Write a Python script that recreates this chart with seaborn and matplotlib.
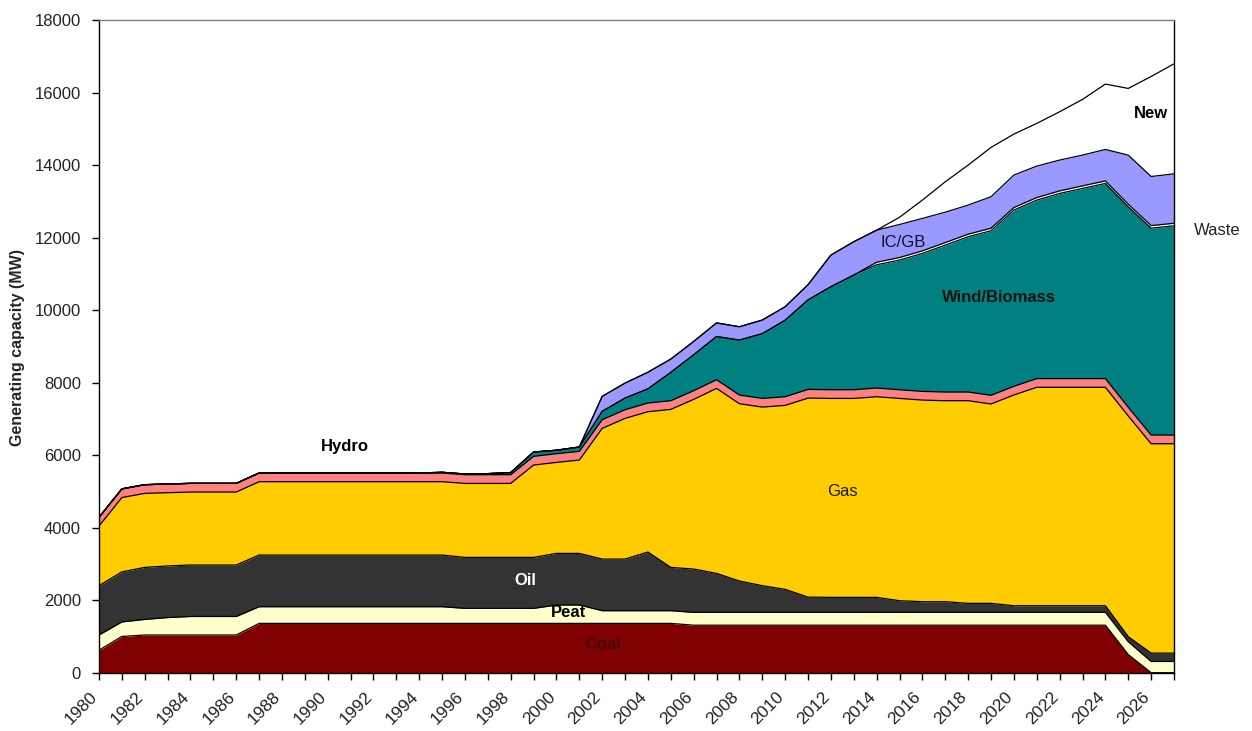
import numpy as np
import pandas as pd
import matplotlib
matplotlib.use("Agg")
import matplotlib.pyplot as plt
import matplotlib.transforms as mtransforms
import seaborn as sns

# ---------------- data (MW), 1980 .. 2027 ----------------
years = list(range(1980, 2028))

coal = [620, 1000] + [1040] * 5 + [1360] * 19 + [1310] * 19 + [500, 0, 0]
peat = [420, 400, 430, 480] + [510] * 3 + [460] * 9 + [414] * 4 + [506] * 2 \
       + [350] * 4 + [354] * 19 + [355] + [310] * 2
oil = [1360, 1380, 1434, 1424] + [1420] * 3 + [1424] * 9 + [1406] * 4 + [1424] * 2 \
      + [1424] * 2 + [1617, 1194, 1194, 1075, 864, 736, 634, 420] + [413] * 3 \
      + [321] + [294] * 2 + [248] * 2 + [183] * 5 + [138] + [230] * 2
gas = [1644, 2050, 2041, 2020] + [2012] * 3 + [2023] * 9 + [2040] * 3 \
      + [2546, 2510, 2574, 3603, 3879, 3870, 4357, 4679, 5101, 4889, 4925, 5073,
         5489, 5487, 5487, 5533, 5579, 5560, 5542, 5589, 5498, 5812, 6024, 6024,
         6024, 6024, 6087, 5774, 5774]
hydro = [240] * 48
wind = [0] * 15 + [20, 20, 30, 60, 120, 95, 120, 230, 320, 390, 780, 990, 1190,
                   1516, 1785, 2109, 2467, 2841, 3162, 3400, 3576, 3805, 4053,
                   4282, 4538, 4859, 4923, 5107, 5245, 5382, 5530, 5706, 5770]
waste = [0] * 34 + [70] * 14
icgb = [0] * 22 + [414, 414, 460, 368, 368, 376, 368, 375, 373, 420, 872, 919,
                   885, 910, 895, 837, 803, 868, 895, 867, 849, 848, 867, 1354,
                   1354, 1364]
new = [0] * 35 + [200, 506, 839, 1103, 1360, 1131, 1177, 1333, 1536, 1803,
                  1839, 2758, 3033]

series_names = ["Coal", "Peat", "Oil", "Gas", "Hydro", "Wind/Biomass", "Waste",
                "IC/GB", "New"]
series_values = [coal, peat, oil, gas, hydro, wind, waste, icgb, new]
series_colors = ["#800000", "#FFFFCC", "#333333", "#FFCC00", "#FF8080",
                 "#008080", "#FFFFFF", "#9999FF", "#FFFFFF"]

# ---------------- figure ----------------
sns.set_theme(style="white")
plt.rcParams["font.family"] = ["Liberation Sans", "DejaVu Sans"]

W, H = 1252, 731
fig = plt.figure(figsize=(W / 100, H / 100), dpi=100)
x0, x1, ytop, ybot = 99, 1174, 20, 672.7
ax = fig.add_axes([x0 / W, 1 - ybot / H, (x1 - x0) / W, (ybot - ytop) / H])

ax.stackplot(years, *series_values, colors=series_colors, linewidth=0)

# boundary lines of the stacked areas
cum = np.cumsum(np.array(series_values, dtype=float), axis=0)
rows = []
for name, top in zip(series_names, cum):
    for yr_, v in zip(years, top):
        rows.append({"series": name, "year": yr_, "top": v})
df_lines = pd.DataFrame(rows)
sns.lineplot(data=df_lines, x="year", y="top", units="series", estimator=None,
             color="black", linewidth=0.9, ax=ax, legend=False)

ax.set_xlim(1980, 2027)
ax.set_ylim(0, 18000)
ax.set_xlabel("")
ax.set_ylabel("")

# ticks
ax.tick_params(axis="both", direction="out", length=5, width=1, color="black",
               bottom=True, left=True)
ax.tick_params(axis="y", pad=8)
ax.tick_params(axis="x", pad=2)
ax.set_xticks(years)
ax.set_xticklabels([str(y) if (y - 1980) % 2 == 0 else "" for y in years],
                   rotation=45, ha="right", rotation_mode="anchor", fontsize=12.5,
                   color="#222222")
yt = list(range(0, 18001, 2000))
ax.set_yticks(yt)
ax.set_yticklabels([str(v) for v in yt], fontsize=12, color="#222222")
offset = mtransforms.ScaledTranslation(-9 / 100, -7 / 100, fig.dpi_scale_trans)
for lbl in ax.get_xticklabels():
    lbl.set_transform(lbl.get_transform() + offset)

for side in ["left", "bottom", "right"]:
    ax.spines[side].set_color("black")
    ax.spines[side].set_linewidth(1)
ax.spines["top"].set_color("#808080")
ax.spines["top"].set_linewidth(1)
ax.grid(False)

fig.text(18 / W, 1 - 347 / H, "Generating capacity (MW)", rotation=90,
         ha="center", va="center", fontsize=11.5, fontweight="bold")

# in-chart labels
def yr(px):
    return 1980 + (px - 99) / 22.87

def mw(py):
    return (672.7 - py) / 0.03626

ax.text(yr(345), mw(447), "Hydro", ha="center", va="center", fontsize=12,
        fontweight="bold", color="black")
ax.text(yr(842), mw(492), "Gas", ha="center", va="center", fontsize=12,
        color="#1a1a1a")
ax.text(yr(525), mw(581), "Oil", ha="center", va="center", fontsize=12,
        fontweight="bold", color="white")
ax.text(yr(568), mw(613), "Peat", ha="center", va="center", fontsize=12,
        fontweight="bold", color="black")
ax.text(yr(603), mw(645), "Coal", ha="center", va="center", fontsize=12,
        fontweight="bold", color="#4a0000")
ax.text(yr(999), mw(298), "Wind/Biomass", ha="center", va="center", fontsize=12,
        fontweight="bold", color="#111111")
ax.text(yr(903), mw(243), "IC/GB", ha="center", va="center", fontsize=12,
        color="#111122")
ax.text(yr(1151), mw(114), "New", ha="center", va="center", fontsize=12,
        fontweight="bold", color="black")
ax.text(yr(1217), mw(231), "Waste", ha="center", va="center", fontsize=12,
        color="#222222", clip_on=False)

fig.savefig("out.png", dpi=100, facecolor="white")
